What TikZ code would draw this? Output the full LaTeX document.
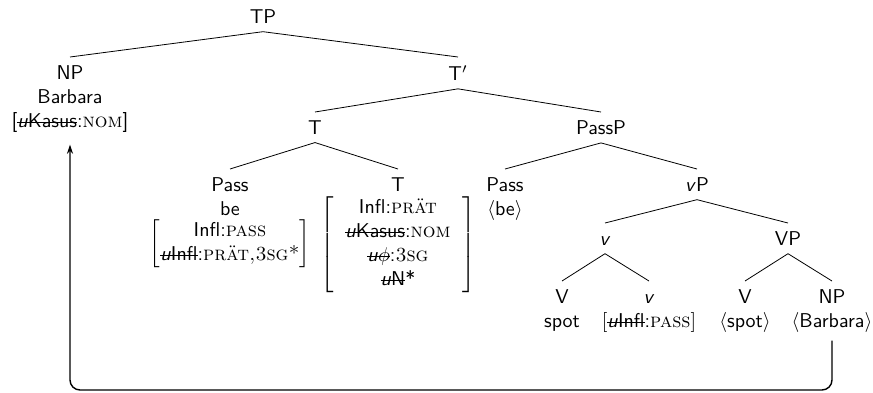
\documentclass[tikz,border=0pt]{standalone}
\usepackage{amsmath}
\usepackage{tikz}
\usetikzlibrary{arrows.meta}

\newcommand{\fsc}[1]{{\rmfamily\textsc{#1}}}
\newsavebox{\strkbox}
\newcommand{\ustrk}[1]{\sbox{\strkbox}{\textit{u}#1}\rlap{\rule[0.55ex]{\wd\strkbox}{0.45pt}}\usebox{\strkbox}}

\begin{document}
\begin{tikzpicture}[x=0.5pt, y=-0.5pt,
    cat/.style={anchor=north, inner xsep=0pt, inner ysep=4pt, align=center, font=\sffamily},
    move/.style={-{Stealth[length=4.5pt,width=3pt]}, line width=0.7pt, rounded corners=5pt, shorten >=2pt}]
  \useasboundingbox (0,0) rectangle (873,392);

  % Top of the tree
  \node[cat] (tp) at (263,1) {TP};
  \node[cat] (np) at (70,57) {NP\\Barbara\\{[}\ustrk{Kasus}:\fsc{nom}{]}};
  \node[cat] (tbar) at (458,57) {T$'$};
  \draw (tp.south) -- (np.north);
  \draw (tp.south) -- (tbar.north);

  % T and PassP
  \node[cat] (t) at (315,112) {T};
  \node[cat] (passp) at (601,112) {PassP};
  \draw (tbar.south) -- (t.north);
  \draw (tbar.south) -- (passp.north);

  % Heads under T
  \node[cat] (pass) at (230,169) {Pass\\be\\[1pt]$\left[\begin{tabular}{@{}c@{}}Infl:\fsc{pass}\\\ustrk{Infl}:\fsc{prät,3sg*}\end{tabular}\right]$};
  \node[cat] (tlow) at (398,169) {T\\[2pt]$\left[\begin{tabular}{c}Infl:\fsc{prät}\\\ustrk{Kasus}:\fsc{nom}\\\ustrk{$\phi$}:\fsc{3sg}\\\ustrk{N}*\end{tabular}\right]$};
  \draw (t.south) -- (pass.north);
  \draw (t.south) -- (tlow.north);

  % Under PassP
  \node[cat] (passtr) at (505,169) {Pass\\$\langle$be$\rangle$};
  \node[cat] (vp) at (697,169) {\textit{v}P};
  \draw (passp.south) -- (passtr.north);
  \draw (passp.south) -- (vp.north);

  % v and VP
  \node[cat] (vbar) at (605,223) {\vphantom{V}\textit{v}};
  \node[cat] (vpp) at (788,223) {VP};
  \draw (vp.south) -- (vbar.north);
  \draw (vp.south) -- (vpp.north);

  % Lowest heads
  \node[cat] (verb) at (562,281) {V\\spot};
  \node[cat] (vhead) at (649,281) {\vphantom{V}\textit{v}\\$\left[\mbox{\ustrk{Infl}:\fsc{pass}}\right]$};
  \node[cat] (vtr) at (745,281) {V\\$\langle$spot$\rangle$};
  \node[cat] (nptr) at (832,281) {NP\\$\langle$Barbara$\rangle$};
  \draw (vbar.south) -- (verb.north);
  \draw (vbar.south) -- (vhead.north);
  \draw (vpp.south) -- (vtr.north);
  \draw (vpp.south) -- (nptr.north);

  % Movement of the object
  \coordinate (bottom) at (0,390);
  \draw[move] (nptr.south) -- (nptr.south |- bottom) -| (np.south);
\end{tikzpicture}
\end{document}
